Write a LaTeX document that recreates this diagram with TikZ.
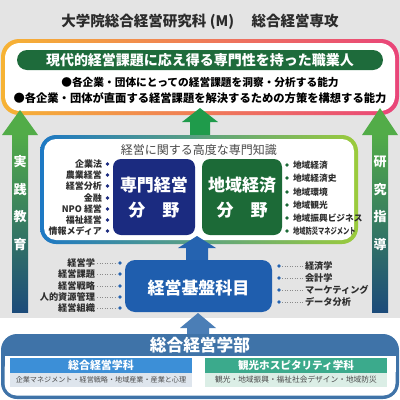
\documentclass[tikz,border=0pt]{standalone}
\usepackage{fontspec}
\setmainfont{Noto Sans CJK JP}
\usepackage{graphicx}
\definecolor{bggray}{HTML}{E4E4E4}
\definecolor{titlec}{HTML}{2B2B2B}
\definecolor{orangeL}{HTML}{F6B334}
\definecolor{midO}{HTML}{F08C5A}
\definecolor{pinkR}{HTML}{E9457A}
\definecolor{bannerg}{HTML}{1E6B3B}
\definecolor{arrowg}{HTML}{52AC48}
\definecolor{navyA}{HTML}{1C4B7A}
\definecolor{tealA}{HTML}{2A7A78}
\definecolor{centerg}{HTML}{1F9B4B}
\definecolor{kbBlue}{HTML}{1D78C4}
\definecolor{kbMid}{HTML}{22A6A8}
\definecolor{kbGreen}{HTML}{9BCB3C}
\definecolor{navybox}{HTML}{1B2B80}
\definecolor{greenbox}{HTML}{1C6A37}
\definecolor{blueA}{HTML}{2563B0}
\definecolor{kibanbox}{HTML}{1F5EAE}
\definecolor{steel}{HTML}{3F73A8}
\definecolor{arrowsteel}{HTML}{4B7EB6}
\definecolor{hdrblue}{HTML}{3C8FD7}
\definecolor{subblue}{HTML}{DEE5ED}
\definecolor{hdrteal}{HTML}{3BAA8C}
\definecolor{subteal}{HTML}{DBEEE6}
\definecolor{listtext}{HTML}{2E2E2E}
\definecolor{subtext}{HTML}{4A4A4A}
\definecolor{dotline}{HTML}{8A8A8A}
\newcommand{\fs}[1]{\fontsize{#1}{#1}\selectfont}
\begin{document}
\begin{tikzpicture}[x=1pt,y=-1pt,
  every node/.style={inner sep=0pt,outer sep=0pt},
  bigbox/.style={rounded corners=8pt,text=white,align=center,font=\bfseries\fontsize{17}{25}\selectfont},
  lefti/.style={anchor=east,text=listtext,font=\bfseries\fs{9}},
  righti/.style={anchor=west,text=listtext,font=\bfseries\fs{8.7}},
  vtext/.style={text=white,font=\bfseries\fs{13}},
  dotl/.style={dotline,line width=0.5pt,dotted},
  bul/.style={line width=0pt}]
\useasboundingbox (0,0) rectangle (400,400);
\fill[bggray] (0,0) rectangle (400,318);

% title
\node[text=titlec,font=\bfseries\fs{14.5}] (title) at (200,22) {大学院総合経営研究科 (M)\hspace{1.2em}総合経営専攻};

% outer gradient box
\shade[rounded corners=18pt,left color=orangeL,middle color=midO,right color=pinkR] (1,39) rectangle (399,115);
\fill[white,rounded corners=15pt] (5,43) rectangle (395,111);
\node[fill=bannerg,rounded corners=10pt,minimum width=366pt,minimum height=20pt,text=white,font=\bfseries\fs{14}] (banner) at (200,60) {現代的経営課題に応え得る専門性を持った職業人};
\node[text=black,font=\bfseries\fs{10.7}] (abil1) at (200,82) {●各企業・団体にとっての経営課題を洞察・分析する能力};
\node[text=black,font=\bfseries\fs{11.3}] (abil2) at (200,98) {●各企業・団体が直面する経営課題を解決するための方策を構想する能力};

% side arrows
\fill[arrowg] (2,135) -- (20,110) -- (38,135) -- cycle;
\shade[top color=arrowg,middle color=tealA,bottom color=navyA] (12,134) rectangle (28,312);
\fill[arrowg] (362,135) -- (380,108) -- (398,135) -- cycle;
\shade[top color=arrowg,middle color=tealA,bottom color=navyA] (372,134) rectangle (388,312);
\node[vtext] (v1) at (20,162) {実};
\node[vtext] (v2) at (20,190) {践};
\node[vtext] (v3) at (20,217) {教};
\node[vtext] (v4) at (20,245) {育};
\node[vtext] (w1) at (380,162) {研};
\node[vtext] (w2) at (380,190) {究};
\node[vtext] (w3) at (380,217) {指};
\node[vtext] (w4) at (380,245) {導};

% center green arrow
\fill[centerg] (190,137) -- (190,122) -- (182,122) -- (200,108) -- (218,122) -- (210,122) -- (210,137) -- cycle;

% knowledge box
\shade[rounded corners=16pt,left color=kbBlue,middle color=kbMid,right color=kbGreen] (40,135) rectangle (358,244);
\fill[white,rounded corners=12pt] (44,139) rectangle (354,240);
\node[text=subtext,font=\fs{12}] (ktitle) at (199,150) {経営に関する高度な専門知識};
\node[bigbox,fill=navybox,minimum width=82pt,minimum height=76pt] (senmon) at (154,197) {};
\node[bigbox] (senmonT) at (154,198) {専門経営\\分　野};
\node[bigbox,fill=greenbox,minimum width=80pt,minimum height=76pt] (chiiki) at (242,197) {};
\node[bigbox] (chiikiT) at (242,198) {地域経済\\分　野};

% left list
\foreach \t/\y/\n in {企業法/164/a1,農業経営/175/a2,経営分析/186/a3,金融/198/a4,NPO 経営/209/a5,福祉経営/220/a6,情報メディア/231/a7}{
  \node[lefti] (\n) at (102,\y) {\t};
  \fill[navybox] (107.5,\y) circle (1.8pt);
}
% right list
\foreach \t/\y/\n in {地域経済/165/b1,地域経済史/178/b2,地域環境/192/b3,地域観光/205/b4,地域振興ビジネス/218/b5}{
  \fill[greenbox] (287,\y) circle (1.8pt);
  \node[righti] (\n) at (293,\y) {\t};
}
\fill[greenbox] (287,231) circle (1.8pt);
\node[righti] (b6) at (293,231) {\scalebox{0.72}[1]{地域防災マネジメント}};

% blue arrow up to knowledge
\fill[blueA] (186,261) -- (186,248) -- (178,248) -- (197,236) -- (216,248) -- (208,248) -- (208,261) -- cycle;

% kiban box
\node[fill=kibanbox,rounded corners=10pt,minimum width=147pt,minimum height=52pt] (kiban) at (198.5,286) {};
\node[text=white,font=\bfseries\fs{17}] (kibanT) at (198.5,288) {経営基盤科目};

\foreach \t/\y/\n in {経営学/263/c1,経営課題/274/c2,経営戦略/286/c3,人的資源管理/297/c4,経営組織/308/c5}{
  \node[lefti,font=\bfseries\fs{9.2}] (\n) at (95,\y) {\t};
  \coordinate (\n d) at (120,\y);
  \draw[dotl] (\n.east) ++(2,0) -- ([xshift=-3pt]\n d);
  \fill[blueA] (\n d) circle (1.8pt);
}
\foreach \t/\y/\n in {経済学/266/e1,会計学/278/e2,マーケティング/290/e3,データ分析/302/e4}{
  \node[righti,font=\bfseries\fs{9.2}] (\n) at (305,\y) {\t};
  \coordinate (\n d) at (279,\y);
  \draw[dotl] ([xshift=3pt]\n d) -- ([xshift=-2pt]\n.west);
  \fill[blueA] (\n d) circle (1.8pt);
}

% bottom arrow
\fill[arrowsteel] (187,337) -- (187,328) -- (180,328) -- (198,313) -- (216,328) -- (209,328) -- (209,337) -- cycle;

% bottom faculty box
\fill[steel,rounded corners=16pt] (1,334) rectangle (399,399);
\fill[white,rounded corners=12pt] (4.5,356) rectangle (395.5,395.5);
\fill[white] (4.5,356) rectangle (395.5,372);
\node[text=white,font=\bfseries\fs{16.7}] (gakubu) at (200,345.5) {総合経営学部};

\node[fill=hdrblue,minimum width=182pt,minimum height=15pt,text=white,font=\bfseries\fs{11}] (dep1) at (101,365.5) {総合経営学科};
\node[fill=subblue,minimum width=182pt,minimum height=14pt,text=subtext,font=\fs{7.1}] (dep1s) at (101,380) {企業マネジメント・経営戦略・地域産業・産業と心理};
\node[fill=hdrteal,minimum width=182pt,minimum height=15pt,text=white,font=\bfseries\fs{10.6}] (dep2) at (296,365.5) {観光ホスピタリティ学科};
\node[fill=subteal,minimum width=182pt,minimum height=14pt,text=subtext,font=\fs{7.7}] (dep2s) at (296,380) {観光・地域振興・福祉社会デザイン・地域防災};
\end{tikzpicture}
\end{document}
